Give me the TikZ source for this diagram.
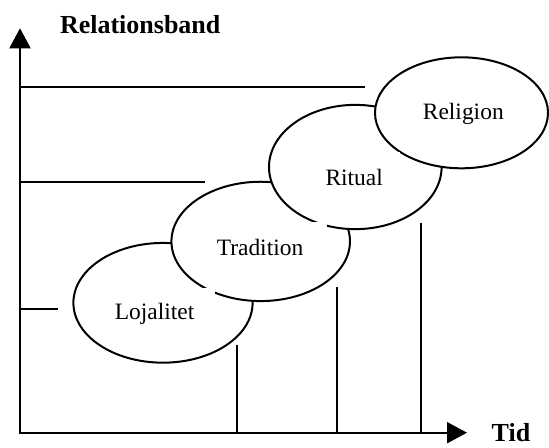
\documentclass[tikz,border=0pt]{standalone}
\usepackage{fontspec}
\setmainfont{Liberation Serif}
\usetikzlibrary{shapes.geometric}
\usetikzlibrary{arrows.meta}

\begin{document}
\begin{tikzpicture}[x=0.75pt,y=-0.75pt,line width=1.5pt]
  \tikzstyle{bubble}=[ellipse,draw,fill=white,inner sep=0pt]
  \tikzstyle{bubbletext}=[fill=white,inner sep=0pt,minimum height=41.25pt,text height=12pt,text depth=3.75pt,font=\fontsize{17.6}{20}\selectfont]
  \tikzstyle{axislabel}=[anchor=base,inner sep=0pt,font=\bfseries\fontsize{19.5}{22}\selectfont]
  \useasboundingbox (0,0) rectangle (549,447);
  \coordinate (origin) at (20,432.7);
  \coordinate (ytip) at (20,28.3);
  \coordinate (xtip) at (467,432.7);
  \coordinate (religionend) at (365,87);
  \coordinate (ritualend) at (205,182);
  \coordinate (lojalitetend) at (58,309.3);
  \coordinate (lojalitetrise) at (237.3,345);
  \coordinate (traditionrise) at (336.7,287.3);
  \coordinate (ritualrise) at (420.7,223.3);
  \draw [{Triangle[length=15pt,width=15.75pt]}-{Triangle[length=15pt,width=15.75pt]}] (ytip) -- (origin) -- (xtip);
  \draw (origin |- religionend) -- (religionend);
  \draw (origin |- ritualend) -- (ritualend);
  \draw (origin |- lojalitetend) -- (lojalitetend);
  \draw (origin -| lojalitetrise) -- (lojalitetrise);
  \draw (origin -| traditionrise) -- (traditionrise);
  \draw (origin -| ritualrise) -- (ritualrise);
  \node (lojalitet) at (163,302.8) [bubble,minimum width=134.4pt,minimum height=89.8pt] {};
  \node (tradition) at (260.7,241.4) [bubble,minimum width=133.9pt,minimum height=89.5pt] {};
  \node (ritual) at (355.3,167) [bubble,minimum width=129.45pt,minimum height=93.2pt] {};
  \node (religion) at (461.5,112.8) [bubble,minimum width=129.75pt,minimum height=83.25pt] {};
  \node[bubbletext,minimum width=90pt,minimum height=39pt] (lojalitetlabel) at (154.5,313.8) {Lojalitet};
  \node[bubbletext,minimum width=100.5pt] (traditionlabel) at (260,249.5) {Tradition};
  \node[bubbletext,minimum width=69pt] (rituallabel) at (354.2,179.5) {Ritual};
  \node[bubbletext,minimum width=75pt] (religionlabel) at (463.3,113.5) {Religion};
  \node[axislabel] (ylabel) at (140.2,33.3) {Relationsband};
  \node[axislabel] (xlabel) at (511,441) {Tid};
\end{tikzpicture}
\end{document}
